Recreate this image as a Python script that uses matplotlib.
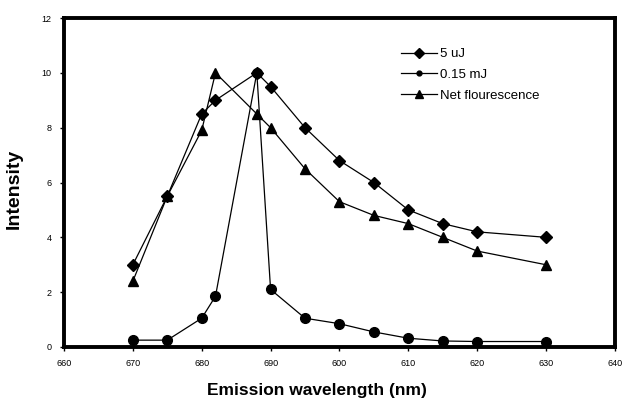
import numpy as np
import matplotlib
matplotlib.use("Agg")
import matplotlib.pyplot as plt

plt.rcParams['font.family'] = ['Liberation Sans', 'DejaVu Sans']

# wavelengths (nm)
wl = [670, 675, 680, 682, 688, 690, 695, 700, 705, 710, 715, 720, 730]

# intensities
i_5uj = [3.0, 5.5, 8.5, 9.0, 10.0, 9.5, 8.0, 6.8, 6.0, 5.0, 4.5, 4.2, 4.0]
i_015mj = [0.25, 0.25, 1.05, 1.85, 10.0, 2.1, 1.05, 0.85, 0.55, 0.32, 0.22, 0.2, 0.2]
i_net = [2.4, 5.5, 7.9, 10.0, 8.5, 8.0, 6.5, 5.3, 4.8, 4.5, 4.0, 3.5, 3.0]

xticks = [660, 670, 680, 690, 700, 710, 720, 730, 740]
xticklabels = ["660", "670", "680", "690", "600", "610", "620", "630", "640"]
yticks = [0, 2, 4, 6, 8, 10, 12]

fig = plt.figure(figsize=(6.23, 4.00), dpi=100)
ax = fig.add_axes([0.1027, 0.1325, 0.8843, 0.8225])

ax.plot(wl, i_5uj, color="black", lw=0.9, marker="D", ms=6.5, label="5 uJ")
ax.plot(wl, i_015mj, color="black", lw=0.9, marker="o", ms=7, label="0.15 mJ")
ax.plot(wl, i_net, color="black", lw=0.9, marker="^", ms=7.5, label="Net flourescence")

ax.set_xlim(660, 740)
ax.set_ylim(0, 12)
ax.set_xticks(xticks)
ax.set_xticklabels(xticklabels)
ax.set_yticks(yticks)
for s in ax.spines.values():
    s.set_linewidth(2.8)
ax.tick_params(direction="out", length=3, width=1, labelsize=6.5, pad=6)

ax.set_xlabel("Emission wavelength (nm)", fontsize=12.5, fontweight="bold")
ax.xaxis.set_label_coords(0.46, -0.11)
ax.xaxis.label.set_va("top")
ax.set_ylabel("Intensity", fontsize=14, fontweight="bold")
ax.yaxis.set_label_coords(-0.075, 0.48)

# legend handles: smaller circle like in the picture
h = [plt.Line2D([], [], color="black", lw=0.9, marker="D", ms=5),
     plt.Line2D([], [], color="black", lw=0.9, marker="o", ms=3.5),
     plt.Line2D([], [], color="black", lw=0.9, marker="^", ms=6)]
ax.legend(h, ["5 uJ", "0.15 mJ", "Net flourescence"], frameon=False,
          prop={'size': 9.5},
          loc="upper left", bbox_to_anchor=(0.59, 0.945), handlelength=2.7,
          handletextpad=0.3, labelspacing=0.65)

fig.savefig("out.png", dpi=100)
